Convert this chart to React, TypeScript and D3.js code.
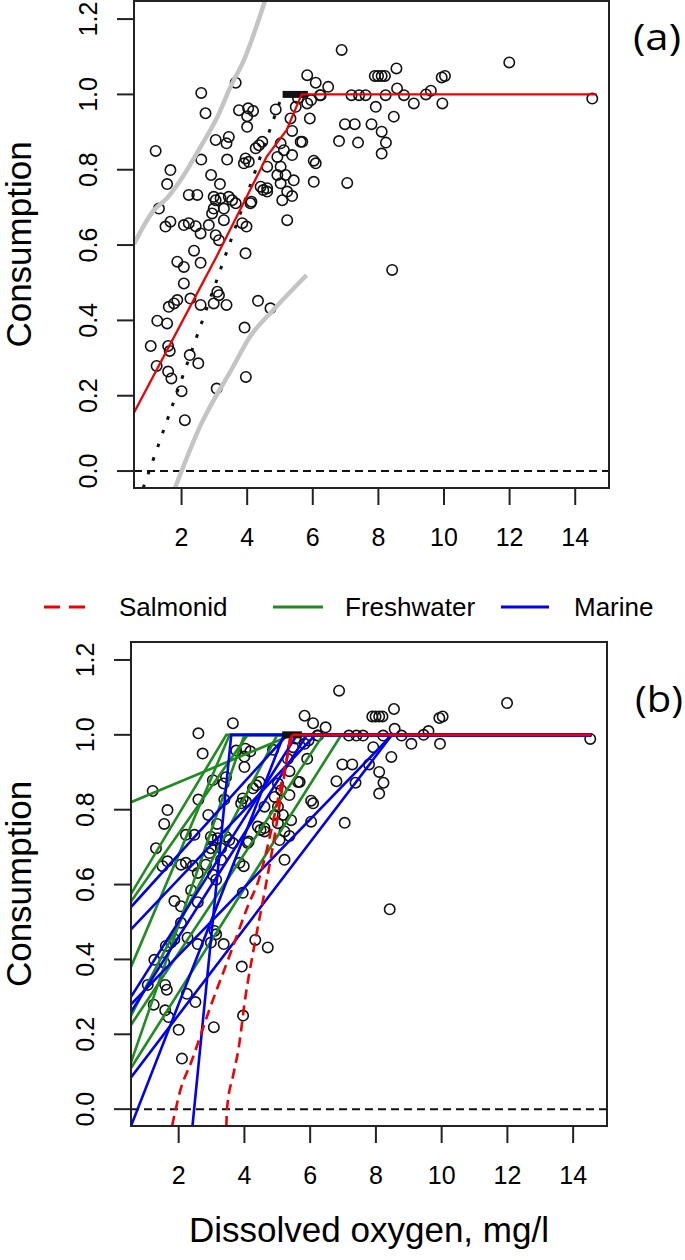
import React from 'react';
import * as d3 from 'd3';

// ---------- data ----------
const obsX: number[] = [
  1.21, 1.66, 1.56, 1.31, 1.51, 1.66, 2.60, 2.73, 3.65, 2.60, 2.90, 3.17, 3.04, 3.44, 3.37, 3.39, 3.75, 4.00, 4.18, 4.00,
  4.87, 3.95, 4.05, 3.90, 4.26, 4.36, 4.46, 5.37, 5.32, 5.48, 5.83, 6.09, 6.47, 6.24, 5.91, 5.63, 5.68, 5.02, 5.12, 5.37,
  4.92, 5.02, 4.92, 5.17, 5.42, 4.61, 4.41, 4.61, 5.02, 5.22, 6.03, 6.03, 6.09, 6.80, 6.98, 7.28, 7.38, 7.05, 2.22, 2.48,
  2.98, 3.19, 3.44, 3.54, 3.04, 2.98, 3.29, 3.65, 4.10, 4.61, 5.07, 5.37, 5.22, 2.07, 2.22, 2.43, 2.58, 2.93, 2.83, 3.29,
  3.85, 3.98, 3.04, 3.14, 3.95, 2.38, 1.87, 2.07, 2.58, 2.07, 3.09, 3.14, 2.27, 1.61, 1.77, 1.87, 2.58, 2.98, 3.37, 4.33,
  4.71, 1.26, 1.56, 3.92, 1.06, 1.59, 1.64, 2.25, 2.51, 1.24, 1.59, 1.69, 3.96, 3.07, 2.00, 2.10, 6.88, 11.99, 7.89, 7.99,
  8.10, 8.20, 8.55, 9.93, 10.03, 7.18, 7.41, 7.61, 8.22, 8.57, 8.78, 9.08, 9.45, 9.60, 9.95, 14.52, 6.22, 7.92, 8.47, 7.79,
  8.10, 8.23, 8.10, 8.42, 5.55, 5.83, 5.95, 4.03, 4.13, 4.49
];
const obsY: number[] = [
  0.850, 0.799, 0.762, 0.697, 0.649, 0.662, 1.004, 0.950, 1.031, 0.827, 0.786, 0.762, 0.879, 0.887, 0.870, 0.827, 0.958, 0.942, 0.956, 0.914,
  0.960, 0.830, 0.821, 0.817, 0.857, 0.865, 0.874, 0.903, 0.936, 0.967, 1.051, 1.031, 1.020, 0.998, 0.936, 0.874, 0.874, 0.870, 0.852, 0.839,
  0.834, 0.808, 0.786, 0.786, 0.772, 0.808, 0.755, 0.751, 0.764, 0.742, 0.768, 0.824, 0.817, 0.876, 0.921, 0.921, 0.872, 0.765, 0.733, 0.733,
  0.728, 0.724, 0.728, 0.719, 0.719, 0.697, 0.697, 0.711, 0.711, 0.742, 0.719, 0.730, 0.666, 0.653, 0.658, 0.650, 0.631, 0.684, 0.653, 0.666,
  0.658, 0.649, 0.626, 0.613, 0.578, 0.585, 0.556, 0.542, 0.553, 0.498, 0.476, 0.467, 0.458, 0.436, 0.445, 0.454, 0.441, 0.445, 0.441, 0.452,
  0.432, 0.399, 0.392, 0.381, 0.332, 0.332, 0.319, 0.308, 0.286, 0.279, 0.264, 0.246, 0.250, 0.219, 0.212, 0.135, 1.118, 1.085, 1.049, 1.049,
  1.049, 1.049, 1.069, 1.045, 1.049, 0.998, 0.998, 0.998, 0.998, 1.016, 0.998, 0.976, 1.000, 1.010, 0.976, 0.989, 0.998, 0.967, 0.941, 0.921,
  0.901, 0.872, 0.843, 0.534, 0.990, 0.976, 0.985, 0.963, 0.715, 0.746
];

const xTicks = [2, 4, 6, 8, 10, 12, 14];
const yTicks = [0.0, 0.2, 0.4, 0.6, 0.8, 1.0, 1.2];
const yTickLabels = ['0.0', '0.2', '0.4', '0.6', '0.8', '1.0', '1.2'];

// panel (a) fitted curves
const fitA: [number, number][] = [[0.55, 0.155], [3.07, 0.57], [4.4, 0.80], [4.59, 0.834], [5.2, 0.905], [5.66, 1.0], [14.65, 1.0]];
const dottedA: [number, number][] = [[0.83, -0.045], [5.05, 0.994]];
const greyUpper: [number, number][] = [[0.55, 0.603], [1.16, 0.693], [1.56, 0.725], [2.07, 0.786], [2.58, 0.861], [3.09, 0.94], [3.49, 1.02], [3.90, 1.091], [4.54, 1.248]];
const greyLower: [number, number][] = [[1.80, -0.045], [2.56, 0.118], [3.57, 0.277], [4.05, 0.352], [4.79, 0.427], [5.81, 0.52]];
const blobA: [number, number][] = [[5.08, 1.0], [5.85, 1.0]];

// panel (b) group curves
const salmonid: [number, number][][] = [
  [[1.8, -0.045], [2.05, 0.05], [2.4, 0.13], [2.96, 0.272], [3.57, 0.415], [4.13, 0.548], [4.43, 0.611], [4.7, 0.70], [4.95, 0.80], [5.2, 0.90], [5.45, 1.0]],
  [[3.45, -0.045], [3.47, 0.0], [3.67, 0.095], [3.82, 0.161], [4.03, 0.299], [4.33, 0.45], [4.64, 0.593], [4.9, 0.72], [5.1, 0.83], [5.3, 0.94], [5.4, 1.0]],
];
const freshwater: [number, number][][] = [
  [[0.55, 0.82], [5.45, 1.0]],
  [[0.55, 0.575], [3.45, 1.0]],
  [[0.55, 0.555], [4.1, 1.0]],
  [[0.55, 0.38], [3.55, 1.0]],
  [[0.55, 0.25], [5.0, 1.0]],
  [[0.55, 0.225], [6.4, 1.0]],
  [[0.55, 0.125], [4.0, 1.0]],
  [[0.55, 0.11], [6.95, 1.0]],
];
const marine: [number, number][][] = [
  [[0.55, 0.54], [5.3, 1.0]],
  [[0.55, 0.48], [6.16, 1.0]],
  [[0.55, 0.30], [5.6, 1.0]],
  [[0.55, 0.28], [8.49, 1.0]],
  [[0.55, 0.26], [5.9, 1.0]],
  [[0.55, 0.085], [8.49, 1.0]],
  [[0.55, -0.045], [5.2, 1.0]],
  [[2.42, -0.045], [3.6, 1.0]],
];
const legendLabels = ['Salmonid', 'Freshwater', 'Marine'];

// ---------- drawing ----------
const FONT = 'Arial, "Liberation Sans", sans-serif';
const RED = '#f00000';
const GREEN = '#1e8c1e';
const BLUE = '#0000f5';

type PanelProps = { left: number; right: number; top: number; bottom: number; tag: string; children: (x: d3.ScaleLinear<number, number>, y: d3.ScaleLinear<number, number>) => React.ReactNode };

function Panel({ left, right, top, bottom, tag, children }: PanelProps) {
  const x = d3.scaleLinear().domain([0.55, 15.03]).range([left, right]);
  const y = d3.scaleLinear().domain([-0.045, 1.248]).range([bottom, top]);
  const clipId = 'clip' + tag;
  return (
    <g>
      <defs>
        <clipPath id={clipId}>
          <rect x={left} y={top} width={right - left} height={bottom - top} />
        </clipPath>
      </defs>
      <g clipPath={`url(#${clipId})`}>
        <line x1={left} x2={right} y1={y(0)} y2={y(0)} stroke="#111" strokeWidth={2} strokeDasharray="8,5" />
        {obsX.map((v, i) => (
          <circle key={i} cx={x(v)} cy={y(obsY[i])} r={5.2} fill="none" stroke="#111" strokeWidth={1.6} />
        ))}
        {children(x, y)}
      </g>
      <rect x={left} y={top} width={right - left} height={bottom - top} fill="none" stroke="#222" strokeWidth={2} />
      {xTicks.map((t) => (
        <g key={t}>
          <line x1={x(t)} x2={x(t)} y1={bottom} y2={bottom + 17} stroke="#222" strokeWidth={2} />
          <text x={x(t)} y={bottom + 58} textAnchor="middle" fontSize={25} fontFamily={FONT} fill="#000">{t}</text>
        </g>
      ))}
      {yTicks.map((t, i) => (
        <g key={t}>
          <line x1={left - 17} x2={left} y1={y(t)} y2={y(t)} stroke="#222" strokeWidth={2} />
          <text transform={`translate(${left - 37},${y(t)}) rotate(-90)`} textAnchor="middle" fontSize={25} fontFamily={FONT} fill="#000">{yTickLabels[i]}</text>
        </g>
      ))}
      <text transform={`translate(31,${(top + bottom) / 2}) rotate(-90)`} textAnchor="middle" fontSize={35} fontFamily={FONT} fill="#000">Consumption</text>
    </g>
  );
}

export default function App() {
  const line = (x: d3.ScaleLinear<number, number>, y: d3.ScaleLinear<number, number>, curve = d3.curveLinear) =>
    d3.line<[number, number]>().x((d) => x(d[0])).y((d) => y(d[1])).curve(curve);

  const withFlat = (pts: [number, number][]): [number, number][] => [...pts, [14.55, 1.0]];

  return (
    <svg width={685} height={1260} style={{ position: 'absolute', left: 0, top: 0, background: '#fff' }}>
      <rect x={0} y={0} width={685} height={1260} fill="#fff" />
      <Panel left={134} right={609} top={1} bottom={488} tag="a">
        {(x, y) => (
          <g>
            <path d={line(x, y, d3.curveMonotoneX)(greyUpper) || ''} fill="none" stroke="#c4c4c4" strokeWidth={4.5} />
            <path d={line(x, y, d3.curveMonotoneX)(greyLower) || ''} fill="none" stroke="#c4c4c4" strokeWidth={4.5} />
            <path d={line(x, y)(dottedA) || ''} fill="none" stroke="#111" strokeWidth={3} strokeDasharray="3.5,11" />
            <path d={line(x, y)(blobA) || ''} fill="none" stroke="#111" strokeWidth={7} />
            <path d={line(x, y)(fitA) || ''} fill="none" stroke={RED} strokeWidth={2.2} />
          </g>
        )}
      </Panel>
      <text x={633} y={50} fontSize={36} fontFamily="'Open Sans', 'Noto Sans', sans-serif" textLength={48} lengthAdjust="spacingAndGlyphs">(a)</text>

      {/* legend */}
      <g>
        <line x1={44} x2={86} y1={607} y2={607} stroke={RED} strokeWidth={3} strokeDasharray="16,9" />
        <text x={119} y={616} fontSize={26} fontFamily={FONT}>{legendLabels[0]}</text>
        <line x1={273} x2={323} y1={607} y2={607} stroke={GREEN} strokeWidth={3} />
        <text x={345} y={616} fontSize={26} fontFamily={FONT}>{legendLabels[1]}</text>
        <line x1={501} x2={549} y1={607} y2={607} stroke={BLUE} strokeWidth={3} />
        <text x={574} y={616} fontSize={26} fontFamily={FONT}>{legendLabels[2]}</text>
      </g>

      <Panel left={131} right={607} top={642} bottom={1126} tag="b">
        {(x, y) => (
          <g>
            {freshwater.map((l, i) => (
              <path key={'g' + i} d={line(x, y)(withFlat(l)) || ''} fill="none" stroke={GREEN} strokeWidth={2.6} />
            ))}
            {marine.map((l, i) => (
              <path key={'b' + i} d={line(x, y)(withFlat(l)) || ''} fill="none" stroke={BLUE} strokeWidth={2.6} />
            ))}
            <path d={line(x, y)([[5.15, 1.0], [5.75, 1.0]]) || ''} fill="none" stroke="#111" strokeWidth={7} />
            {salmonid.map((l, i) => (
              <path key={'r' + i} d={line(x, y, d3.curveMonotoneX)(l) || ''} fill="none" stroke={RED} strokeWidth={2.6} strokeDasharray="10,6" />
            ))}
            <path d={line(x, y)([[5.45, 1.0], [14.55, 1.0]]) || ''} fill="none" stroke={RED} strokeWidth={2.6} />
          </g>
        )}
      </Panel>
      <text x={635} y={712} fontSize={36} fontFamily="'Open Sans', 'Noto Sans', sans-serif" textLength={48} lengthAdjust="spacingAndGlyphs">(b)</text>

      <text x={369} y={1242} textAnchor="middle" fontSize={35} fontFamily={FONT}>Dissolved oxygen, mg/l</text>
    </svg>
  );
}
